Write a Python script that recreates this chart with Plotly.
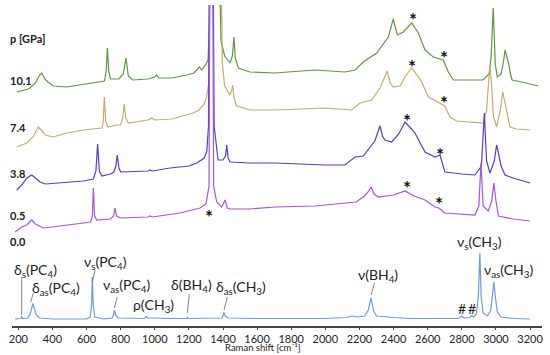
import plotly.graph_objects as go

# Raman shift (cm^-1) and intensity (arb. units, stacked)
x_10_1 = [191, 260, 300, 325, 337, 355, 374, 405, 484, 600, 679, 705, 715, 722, 730, 740, 790, 815, 831, 845, 870,
          960, 1000, 1011, 1025, 1100, 1187, 1230, 1261, 1275, 1300, 1312, 1318, 1330, 1372, 1380, 1388, 1410, 1441,
          1455, 1464, 1472, 1490, 1558, 1705, 1939, 2115, 2174, 2222, 2301, 2369, 2398, 2422, 2457, 2506, 2545, 2584,
          2633, 2691, 2721, 2750, 2924, 2960, 2972, 2984, 2996, 3008, 3030, 3045, 3053, 3065, 3075, 3085, 3095, 3150, 3248]
y_10_1 = [234, 237, 243, 251, 253, 247, 244, 240, 239, 242, 244, 245, 255, 278, 255, 247, 247, 252, 268, 250, 246,
          247, 249, 251, 248, 248, 251, 253, 259, 256, 262, 266, 290, 420, 420, 330, 285, 270, 263,
          270, 289, 268, 258, 254, 253, 256, 254, 256, 264, 273, 289, 307, 291, 294, 303, 293, 276,
          269, 266, 254, 246, 246, 252, 270, 318, 262, 249, 252, 265, 276, 268, 262, 252, 246, 244, 240]

x_7_4 = [191, 250, 290, 317, 340, 357, 405, 484, 581, 690, 698, 704, 712, 725, 780, 800, 812, 821, 830, 845, 960,
         982, 1000, 1100, 1224, 1260, 1290, 1304, 1318, 1328, 1385, 1392, 1396, 1410, 1441, 1452, 1457, 1465, 1480,
         1558, 1705, 1997, 2154, 2203, 2272, 2320, 2363, 2380, 2398, 2438, 2470, 2506, 2540, 2559, 2604, 2672, 2701,
         2730, 2770, 2926, 2945, 2955, 2965, 2975, 2985, 3004, 3025, 3040, 3050, 3062, 3082, 3120, 3200]
y_7_4 = [179, 183, 190, 199, 195, 191, 189, 193, 196, 198, 205, 229, 205, 199, 201, 201, 208, 222, 208, 203, 206,
         208, 206, 207, 213, 216, 222, 229, 245, 420, 420, 330, 262, 240, 231, 236, 241, 228, 220,
         216, 216, 218, 216, 223, 226, 238, 255, 243, 239, 240, 250, 258, 250, 246, 229, 223, 220,
         209, 205, 203, 215, 240, 259, 240, 210, 199, 215, 234, 226, 215, 199, 197, 196]

x_3_8 = [191, 220, 250, 279, 300, 327, 360, 444, 484, 581, 640, 655, 665, 675, 690, 740, 760, 772, 780, 790, 800,
         960, 972, 985, 1089, 1200, 1246, 1290, 1305, 1315, 1322, 1340, 1348, 1371, 1400, 1415, 1422, 1430, 1441,
         1558, 1705, 1997, 2115, 2174, 2222, 2250, 2290, 2320, 2335, 2349, 2389, 2430, 2467, 2500, 2525, 2584, 2643,
         2672, 2690, 2701, 2800, 2877, 2915, 2932, 2945, 2965, 2990, 3004, 3017, 3030, 3053, 3100, 3200]
y_3_8 = [136, 141, 148, 151, 148, 144, 142, 143, 144, 145, 147, 155, 182, 155, 150, 152, 154, 160, 171, 158, 154,
         155, 156, 155, 158, 160, 163, 168, 175, 200, 420, 420, 200, 166, 166, 170, 181, 168, 164,
         163, 163, 161, 161, 169, 170, 176, 185, 200, 190, 186, 184, 192, 204, 198, 193, 174, 169,
         171, 160, 154, 152, 151, 160, 213, 165, 153, 165, 181, 171, 160, 151, 148, 143]

x_0_5 = [181, 220, 250, 279, 300, 345, 400, 484, 581, 625, 634, 640, 647, 660, 740, 758, 767, 776, 800, 960, 972,
         985, 1148, 1265, 1300, 1318, 1324, 1338, 1345, 1363, 1392, 1412, 1425, 1441, 1558, 1705, 1939, 2154, 2180,
         2230, 2250, 2268, 2285, 2310, 2400, 2467, 2520, 2584, 2643, 2666, 2700, 2877, 2900, 2912, 2925, 2955, 2975,
         2988, 3000, 3015, 3100, 3200]
y_0_5 = [94, 99, 101, 106, 102, 98, 99, 101, 103, 104, 110, 138, 110, 106, 107, 110, 118, 110, 108, 109, 110,
         109, 113, 118, 122, 140, 420, 420, 140, 124, 119, 126, 118, 117, 117, 119, 120, 123, 124,
         130, 134, 139, 132, 129, 131, 135, 130, 126, 119, 118, 113, 111, 120, 163, 120, 115, 125,
         143, 125, 110, 107, 105]

x_0_0 = [181, 215, 220, 226, 255, 270, 285, 295, 305, 325, 400, 600, 622, 630, 634, 639, 648, 700, 750, 758, 763,
         770, 785, 940, 949, 957, 980, 990, 1100, 1186, 1191, 1196, 1395, 1402, 1406, 1413, 1430, 1600, 2000, 2120,
         2156, 2190, 2230, 2252, 2268, 2283, 2300, 2400, 2500, 2780, 2799, 2812, 2845, 2858, 2870, 2885, 2897, 2906,
         2913, 2925, 2950, 2970, 2980, 2988, 2996, 3008, 3030, 3100, 3200]
y_0_0 = [7, 7.5, 9, 7.5, 8, 12, 22.5, 16, 11, 8, 7, 7, 9, 22, 49, 22, 9, 7, 8, 11, 16,
         11, 8, 7.5, 9.5, 8, 8.5, 8, 7.5, 7.5, 8.5, 7.5, 8, 11, 13.5, 10, 8, 7.5, 7.5, 8.5,
         10, 9, 10, 16, 28, 15, 10, 8.5, 7.5, 7.5, 10, 8, 8.5, 10, 9, 12, 30, 73,
         30, 13, 10, 16, 30, 44, 30, 14, 9, 7.5, 7]

pressures = ["10.1", "7.4", "3.8", "0.5", "0.0"]
colors = ["#5c9a40", "#c9aa6c", "#4a3fe0", "#a056e8", "#7099de"]
series = [(x_10_1, y_10_1), (x_7_4, y_7_4), (x_3_8, y_3_8), (x_0_5, y_0_5), (x_0_0, y_0_0)]
label_y = [254, 199, 152, 111, 76]

x_ticks = list(range(200, 3201, 200))
Y_MAX = 321

# peak assignments (text, x, y)
assign_text = ["δ<sub>s</sub>(PC<sub>4</sub>)", "δ<sub>as</sub>(PC<sub>4</sub>)", "ν<sub>s</sub>(PC<sub>4</sub>)",
               "ν<sub>as</sub>(PC<sub>4</sub>)", "ρ(CH<sub>3</sub>)", "δ(BH<sub>4</sub>)", "δ<sub>as</sub>(CH<sub>3</sub>)",
               "ν(BH<sub>4</sub>)", "ν<sub>s</sub>(CH<sub>3</sub>)", "ν<sub>as</sub>(CH<sub>3</sub>)", "#", "#"]
assign_x = [298, 421, 712, 837, 994, 1216, 1505, 2308, 2906, 3077, 2799, 2861]
assign_y = [56, 38, 64, 41, 21, 41, 39, 51, 84, 56, 18, 18]

# leader lines (x0, y0, x1, y1)
leaders = [(220, 11, 220, 49), (273, 24, 288, 33), (634, 44, 650, 56), (763, 18, 780, 29),
           (1191, 13, 1202, 32), (1406, 16, 1425, 29), (2268, 31, 2288, 43)]

star_x = [2512, 2697, 2506, 2695, 2477, 2670, 2477, 2666, 1320]
star_y = [311, 273, 264, 228, 210, 176, 143, 127, 114]

fig = go.Figure()
for (xs, ys), c, p in zip(series, colors, pressures):
    fig.add_trace(go.Scatter(x=xs, y=ys, mode="lines", line=dict(color=c, width=1.2),
                             name=p, showlegend=False, hoverinfo="skip"))

ann = []
font_main = "Lato, 'Open Sans', sans-serif"
for t, xx, yy in zip(assign_text, assign_x, assign_y):
    ann.append(dict(x=xx, y=yy, xref="x", yref="y", text=t, showarrow=False,
                    font=dict(family=font_main, size=14, color="#222")))
for xx, yy in zip(star_x, star_y):
    ann.append(dict(x=xx, y=yy, xref="x", yref="y", text="<b>*</b>", showarrow=False, yshift=-4,
                    font=dict(family=font_main, size=19, color="#111")))
left_x = -0.0075
ann.append(dict(x=left_x, y=296 / Y_MAX, xref="paper", yref="paper", text="<b>p [GPa]</b>", showarrow=False,
                xanchor="left", font=dict(family=font_main, size=11, color="#222")))
for p, yy in zip(pressures, label_y):
    ann.append(dict(x=left_x, y=yy / Y_MAX, xref="paper", yref="paper", text="<b>%s</b>" % p, showarrow=False,
                    xanchor="left", font=dict(family=font_main, size=11, color="#222")))
ann.append(dict(x=(1634 - 163) / (3270 - 163), y=-29 / Y_MAX, xref="paper", yref="paper",
                yanchor="bottom", text="Raman shift [cm⁻¹]", showarrow=False,
                font=dict(family=font_main, size=9.5, color="#222")))

shapes = [dict(type="line", x0=a, y0=b, x1=c, y1=d, xref="x", yref="y",
               line=dict(color="#666", width=0.8)) for a, b, c, d in leaders]

fig.update_layout(
    width=550, height=355,
    margin=dict(l=12, r=8, t=5, b=29),
    paper_bgcolor="white", plot_bgcolor="white",
    annotations=ann, shapes=shapes,
    xaxis=dict(range=[163, 3270], tickvals=x_ticks, showgrid=False, zeroline=False,
               showline=True, linecolor="#444", linewidth=1.5, ticks="outside", ticklen=2,
               tickcolor="#444", tickfont=dict(family=font_main, size=11, color="#222")),
    yaxis=dict(range=[0, Y_MAX], visible=False, showgrid=False, zeroline=False),
)

fig.write_html("out.html", config={"displayModeBar": False},
               post_script="document.body.style.margin='0';document.body.style.padding='0';"
                           "document.body.style.overflow='hidden';")
